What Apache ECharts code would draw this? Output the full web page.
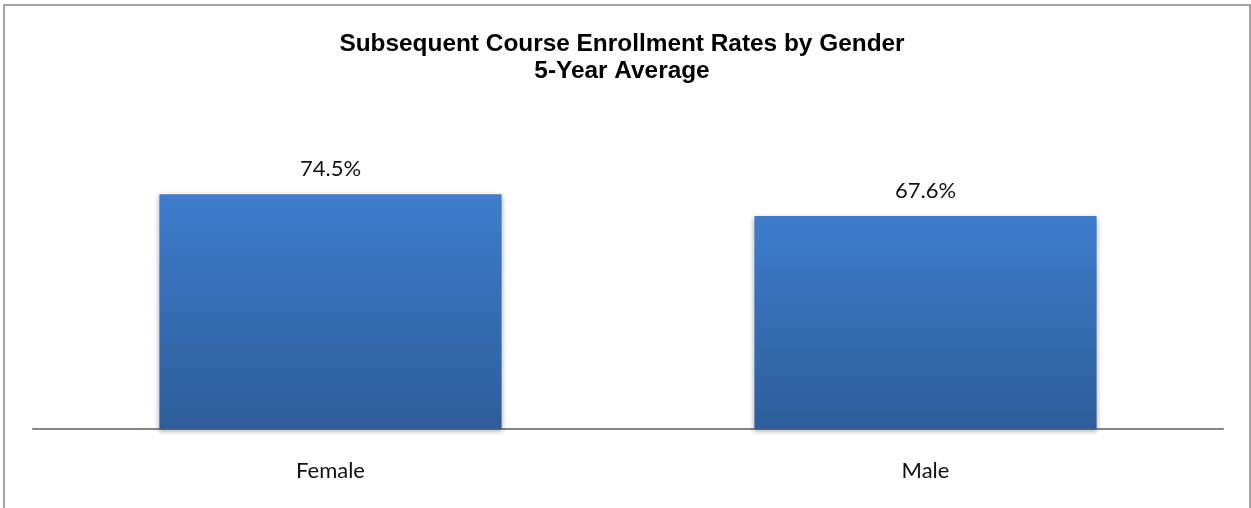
<!DOCTYPE html>
<html>
<head>
<meta charset="utf-8">
<script src="https://cdn.jsdelivr.net/npm/echarts@6/dist/echarts.min.js"></script>
<style>
html,body{margin:0;padding:0;background:#fff;}
#chart{width:1251px;height:508px;}
</style>
</head>
<body>
<div id="chart"></div>
<script>
var categories = ['Female', 'Male'];
var values = [74.5, 67.6];
var titleLines = ['Subsequent Course Enrollment Rates by Gender', '5-Year Average'];

var chart = echarts.init(document.getElementById('chart'));
chart.setOption({
  animation: false,
  backgroundColor: '#ffffff',
  title: {
    text: titleLines.join('\n'),
    left: 617,
    textAlign: 'center',
    top: 26,
    textStyle: {
      fontFamily: 'Liberation Sans, Arial, sans-serif',
      fontWeight: 'bold',
      fontSize: 24.4,
      lineHeight: 27,
      color: '#000'
    }
  },
  graphic: [{
    type: 'rect',
    shape: {x: 4, y: 5, width: 1246, height: 600},
    style: {fill: 'none', stroke: '#888888', lineWidth: 1.5},
    silent: true,
    z: 100
  }],
  grid: {left: 33, right: 28, top: 114, bottom: 79},
  xAxis: {
    type: 'category',
    data: categories,
    axisLine: {lineStyle: {color: '#868686', width: 2}},
    axisTick: {show: false},
    axisLabel: {
      fontFamily: 'Lato, sans-serif',
      fontSize: 22,
      color: '#111',
      margin: 31
    }
  },
  yAxis: {
    type: 'value',
    min: 0,
    max: 100,
    show: false,
    splitLine: {show: false}
  },
  series: [{
    type: 'bar',
    data: values,
    barWidth: '57.5%',
    itemStyle: {
      color: new echarts.graphic.LinearGradient(0, 0, 0, 1, [
        {offset: 0, color: '#3d7dcc'},
        {offset: 1, color: '#2d5d9a'}
      ]),
      shadowBlur: 5,
      shadowColor: 'rgba(0,0,0,0.35)',
      shadowOffsetY: 2
    },
    label: {
      show: true,
      position: 'top',
      distance: 14,
      formatter: function (p) { return p.value.toFixed(1) + '%'; },
      fontFamily: 'Lato, sans-serif',
      fontSize: 22,
      color: '#111'
    }
  }]
});
</script>
</body>
</html>
